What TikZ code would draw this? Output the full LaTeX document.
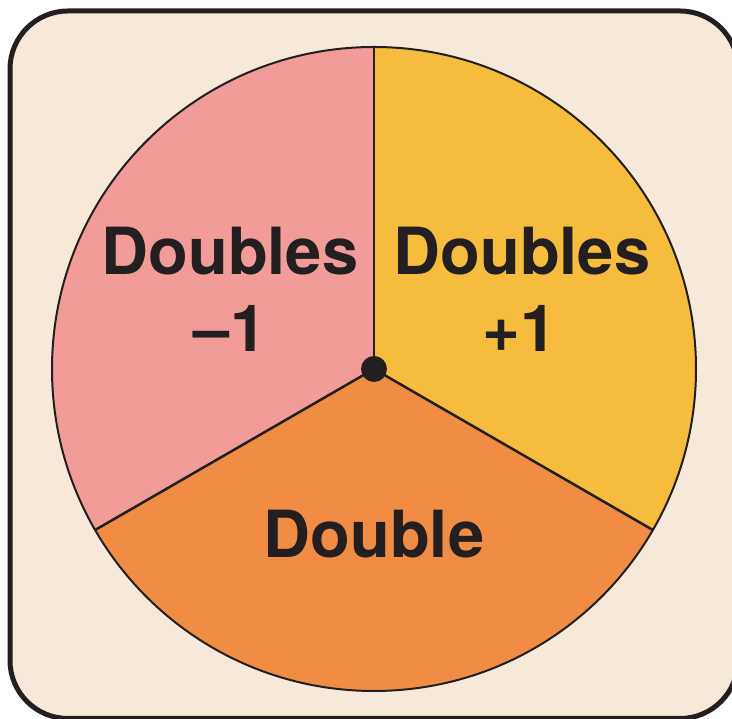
\documentclass[tikz,border=0pt]{standalone}
\usepackage{fontspec}
\setmainfont{TeX Gyre Heros}
\usepackage{tikz}
\usetikzlibrary{positioning}
\usepackage{xcolor}
\definecolor{CardBeige}{HTML}{F7E9DA}
\definecolor{InkBlack}{HTML}{231F20}
\definecolor{SpinPink}{HTML}{F19C99}
\definecolor{SpinYellow}{HTML}{F6BC3D}
\definecolor{SpinOrange}{HTML}{F08C43}

\begin{document}
\begin{tikzpicture}[x=1pt,y=1pt,
  label/.style={font=\fontsize{65}{77}\selectfont\bfseries,text=InkBlack,anchor=base,inner sep=0pt}]
  \useasboundingbox (0,0) rectangle (732,719);
  \clip (0,0) rectangle (732,719);
  \draw[InkBlack,line width=5pt,fill=CardBeige,rounded corners=58pt] (10,0.5) rectangle (738,708);
  \coordinate (c) at (374,350);
  % spinner sectors
  \foreach \a/\b/\cc in {90/210/SpinPink,-30/90/SpinYellow,210/330/SpinOrange}{
    \fill[\cc] (c) -- ([shift={(\a:322)}]c) arc (\a:\b:322) -- cycle;
  }
  \draw[InkBlack,line width=2pt] (c) circle (322);
  \foreach \a in {90,210,330}{
    \draw[InkBlack,line width=2.5pt] (c) -- ([shift={(\a:322)}]c);
  }
  \fill[InkBlack] (c) circle (13);
  \node[label] (minusTop) at (230,444) {Doubles};
  \node[label] (minusNum) at (230,367) {–1};
  \node[label] (plusTop) at (522,444) {Doubles};
  \node[label] (plusNum) at (520,367) {+1};
  \node[label] (double) at (374,161) {Double};
\end{tikzpicture}
\end{document}
